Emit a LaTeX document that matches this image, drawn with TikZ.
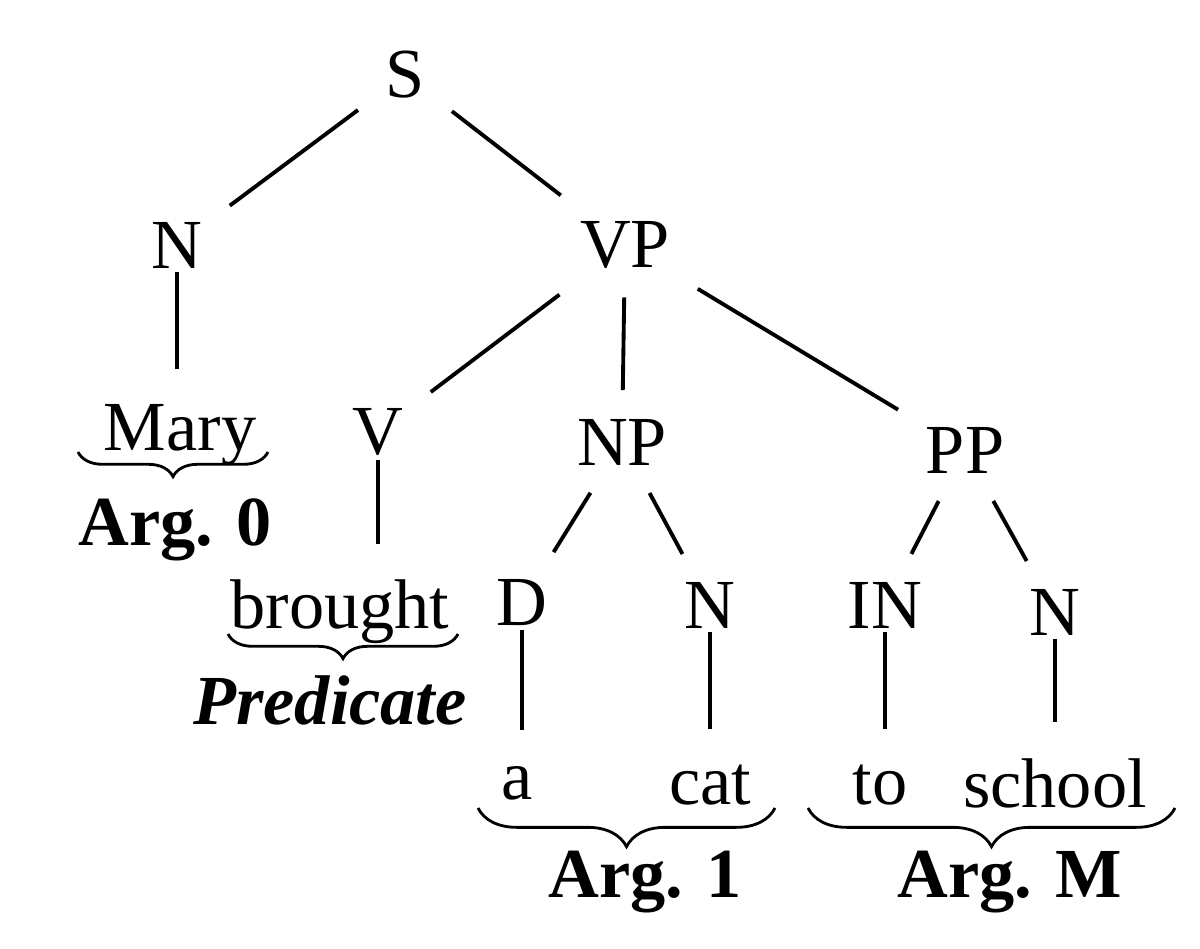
\documentclass[tikz,border=0pt]{standalone}
\usepackage{fontspec}
\setmainfont{Liberation Serif}
\usetikzlibrary{decorations.pathreplacing}

\begin{document}
\begin{tikzpicture}[x=0.01cm,y=-0.01cm,
		cat/.style={font=\fontsize{20}{22}\selectfont, inner sep=6pt},
		word/.style={font=\fontsize{20}{22}\selectfont, inner sep=2pt},
		role/.style={font=\fontsize{20}{22}\selectfont\bfseries},
		branch/.style={line width=1.1pt},
		argbrace/.style={decorate, decoration={brace, mirror, amplitude=7pt}, line width=0.8pt}]
	\useasboundingbox (0,0) rectangle (1200,949);
	% categories
	\node[cat] (S) at (405,75) {S};
	\node[cat] (N-1) at (177,245) {N};
	\node[cat] (VP) at (625,245) {VP};
	\node[cat] (V) at (378,432) {V};
	\node[cat] (NP) at (622,442) {NP};
	\node[cat] (PP) at (965,450) {PP};
	\node[cat] (D) at (522,603) {D};
	\node[cat] (N-2) at (710,605) {N};
	\node[cat] (IN) at (885,605) {IN};
	\node[cat] (N-3) at (1055,612) {N};
	% words
	\node[word] (mary) at (180,435) {Mary};
	\node[word] (brought) at (340,612) {brought};
	\node[word] (a) at (517,783) {a};
	\node[word] (cat) at (710,785) {cat};
	\node[word] (to) at (880,785) {to};
	\node[word] (school) at (1055,783) {school};
	% branches
	\foreach \p/\c in {S/N-1,S/VP,VP/V,VP/NP,VP/PP,NP/D,NP/N-2,PP/IN,PP/N-3}
		\draw[branch, shorten <=2pt, shorten >=2pt] (\p) -- (\c);
	\foreach \p/\c in {N-1/mary,V/brought,D/a,N-2/cat,IN/to,N-3/school}
		\draw[branch, shorten <=-5pt, shorten >=8pt] (\p.south) -- (\p.south |- \c.north);
	% braces and roles
	\coordinate (b1l) at (78,452);   \coordinate (b1r) at (268,452);
	\coordinate (b2l) at (228,634);  \coordinate (b2r) at (458,634);
	\coordinate (b3l) at (478,808);  \coordinate (b3r) at (775,808);
	\coordinate (b4l) at (808,808);  \coordinate (b4r) at (1175,808);
	\draw[argbrace] (b1l) -- (b1r);
	\draw[argbrace] (b2l) -- (b2r);
	\draw[argbrace, decoration={amplitude=11pt}] (b3l) -- (b3r);
	\draw[argbrace, decoration={amplitude=11pt}] (b4l) -- (b4r);
	\node[role] (arg0) at (175,530) {Arg. 0};
	\node[role, font=\fontsize{20}{22}\selectfont\bfseries\itshape] (pred) at (330,700) {Predicate};
	\node[role] (arg1) at (645,882) {Arg. 1};
	\node[role] (argM) at (1010,882) {Arg. M};
\end{tikzpicture}
\end{document}
